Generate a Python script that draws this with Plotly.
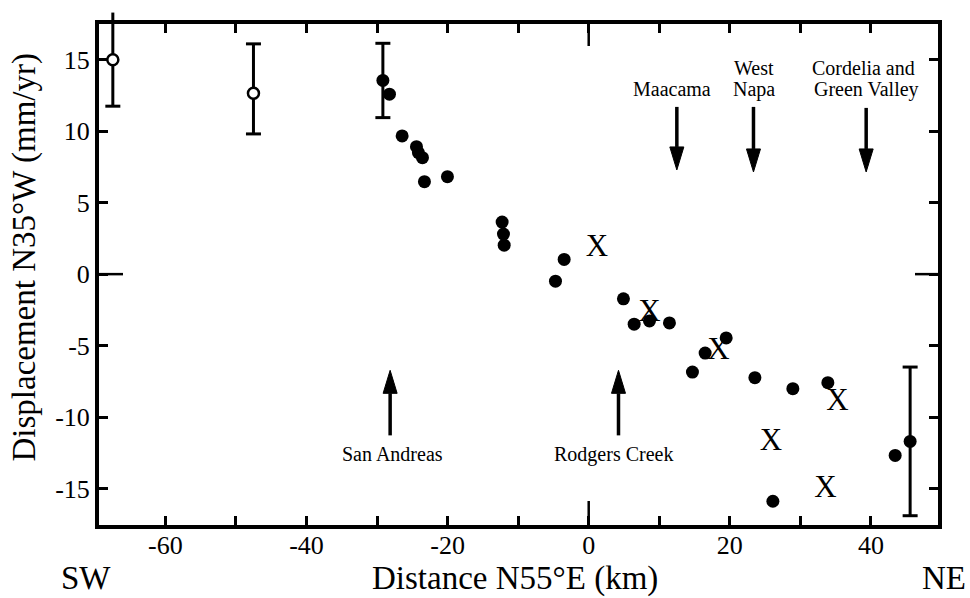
import plotly.graph_objects as go

# ---- data -------------------------------------------------------------
# Fault-parallel (N35°W) velocity against distance across the faults (N55°E)

# sites shown as open circles, with error bars
open_dist = [-67.44, -47.51]
open_disp = [15.0, 12.66]
open_err_plus = [3.3, 3.45]
open_err_minus = [3.25, 2.85]

# sites shown as filled circles
dot_dist = [-28.24, -26.44, -24.41, -24.13, -23.56, -23.28, -20.02,
            -12.27, -12.08, -11.98, -3.48, -4.71, 4.92, 6.44, 8.61,
            11.44, 19.48, 16.50, 14.70, 23.55, 28.93, 33.89, 26.10, 43.43]
dot_disp = [12.59, 9.67, 8.92, 8.50, 8.15, 6.47, 6.82,
            3.64, 2.80, 2.03, 1.03, -0.49, -1.73, -3.50, -3.27,
            -3.41, -4.46, -5.52, -6.85, -7.24, -8.01, -7.59, -15.89, -12.68]

# filled circles that carry error bars
dot_err_dist = [-29.17, 45.55]
dot_err_disp = [13.55, -11.70]
dot_err = [2.6, 5.2]

# sites drawn with an "X"
x_dist = [1.15, 8.61, 18.39, 35.25, 25.81, 33.55]
x_disp = [1.84, -2.75, -5.37, -8.99, -11.75, -15.02]

# fault traces: arrows point down from above or up from below
down_faults = ["Maacama", "West Napa", "Cordelia and Green Valley"]
down_x = [12.49, 23.35, 39.32]
down_tail = [11.70, 11.70, 11.63]
down_tip = [7.29, 7.15, 7.15]

up_faults = ["San Andreas", "Rodgers Creek"]
up_x = [-28.14, 4.22]
up_tip = [-6.73, -6.73]
up_tail = [-11.28, -11.28]

x_tickvals = [-60, -50, -40, -30, -20, -10, 0, 10, 20, 30, 40]
x_ticktext = ["-60", "", "-40", "", "-20", "", "0", "", "20", "", "40"]
y_tickvals = [-15, -10, -5, 0, 5, 10, 15]
y_ticktext = ["-15", "-10", "-5", "0", "5", "10", "15"]

# ---- layout geometry ----------------------------------------------------
W, H = 970, 598
ML, MT = 99, 24
PW, PH = 839, 501
MR = W - ML - PW
MB = H - MT - PH
X_RANGE = [-69.4, 49.5]
Y_RANGE = [-17.55, 17.5]
px_x = PW / (X_RANGE[1] - X_RANGE[0])
px_y = PH / (Y_RANGE[1] - Y_RANGE[0])

FONT = "Liberation Serif"
INK = "black"
BAR_W = 3
CAP_PX = 15


def paper_x(px):
    return (px - ML) / PW


def paper_y(py):
    return (MT + PH - py) / PH


fig = go.Figure()


def error_bars(xs, ys, plus, minus):
    """Vertical error bars built from line markers so they may run past the frame."""
    lo = [y - m for y, m in zip(ys, minus)]
    hi = [y + p for y, p in zip(ys, plus)]
    mid = [(a + b) / 2 for a, b in zip(lo, hi)]
    sizes = [(b - a) * px_y / 1.4 for a, b in zip(lo, hi)]
    fig.add_trace(go.Scatter(
        x=xs, y=mid, mode="markers", hoverinfo="skip",
        marker=dict(symbol="line-ns", size=sizes, color=INK, opacity=1,
                    line=dict(width=BAR_W, color=INK)),
        cliponaxis=False, showlegend=False,
    ))
    fig.add_trace(go.Scatter(
        x=list(xs) + list(xs), y=lo + hi, mode="markers", hoverinfo="skip",
        marker=dict(symbol="line-ew", size=CAP_PX / 1.4, color=INK, opacity=1,
                    line=dict(width=BAR_W, color=INK)),
        cliponaxis=False, showlegend=False,
    ))


error_bars(open_dist, open_disp, open_err_plus, open_err_minus)
error_bars(dot_err_dist, dot_err_disp, dot_err, dot_err)

fig.add_trace(go.Scatter(
    x=open_dist, y=open_disp, mode="markers",
    marker=dict(symbol="circle", size=11, color="white", line=dict(width=2.5, color=INK)),
    cliponaxis=False, showlegend=False,
))

fig.add_trace(go.Scatter(
    x=dot_err_dist, y=dot_err_disp, mode="markers",
    marker=dict(symbol="circle", size=13, color=INK),
    cliponaxis=False, showlegend=False,
))

fig.add_trace(go.Scatter(
    x=dot_dist, y=dot_disp, mode="markers",
    marker=dict(symbol="circle", size=13, color=INK),
    cliponaxis=False, showlegend=False,
))

fig.add_trace(go.Scatter(
    x=x_dist, y=x_disp, mode="text", text=["X"] * len(x_dist),
    textposition="middle center",
    textfont=dict(family=FONT, size=31, color=INK),
    cliponaxis=False, showlegend=False,
))

# ---- fault arrows --------------------------------------------------------
HEAD_LEN = 23 / px_y
HEAD_HALF = 7 / px_x
shapes = []


def arrow(x, tail, tip):
    direction = 1 if tip > tail else -1
    base = tip - direction * HEAD_LEN
    shapes.append(dict(type="line", xref="x", yref="y", x0=x, x1=x, y0=tail, y1=base,
                       line=dict(color=INK, width=3.5)))
    shapes.append(dict(type="path", xref="x", yref="y",
                       path=f"M {x - HEAD_HALF} {base} L {x + HEAD_HALF} {base} L {x} {tip} Z",
                       fillcolor=INK, line=dict(color=INK, width=1)))


for xx, t0, t1 in zip(down_x, down_tail, down_tip):
    arrow(xx, t0, t1)
for xx, t0, t1 in zip(up_x, up_tail, up_tip):
    arrow(xx, t0, t1)

# longer ticks marking zero on every side of the frame
Z = 24
shapes += [
    dict(type="line", xref="x", yref="y domain", x0=0, x1=0, y0=0, y1=Z / PH,
         line=dict(color=INK, width=2.5)),
    dict(type="line", xref="x", yref="y domain", x0=0, x1=0, y0=1, y1=1 - 22 / PH,
         line=dict(color=INK, width=2.5)),
    dict(type="line", xref="x domain", yref="y", x0=0, x1=Z / PW, y0=0, y1=0,
         line=dict(color=INK, width=2.5)),
    dict(type="line", xref="x domain", yref="y", x0=1, x1=1 - 23 / PW, y0=0, y1=0,
         line=dict(color=INK, width=2.5)),
]

# ---- text ------------------------------------------------------------------
annotations = []


def label(text, px, py, size=20):
    annotations.append(dict(text=text, xref="paper", yref="paper",
                            x=paper_x(px), y=paper_y(py), xanchor="center", yanchor="middle",
                            showarrow=False, borderpad=0,
                            font=dict(family=FONT, size=size, color=INK)))


label("Maacama", 671.7, 89)
label("West", 754, 68)
label("Napa", 754, 89)
label("Cordelia and", 863, 68)
label("Green Valley", 866, 89)
label("San Andreas", 392, 454)
label("Rodgers Creek", 613, 454)

label("SW", 86, 578, 33)
label("NE", 944, 578, 33)
label("Distance N55°E (km)", 514.5, 578, 33)
annotations.append(dict(text="Displacement N35°W (mm/yr)", xref="paper", yref="paper",
                        x=paper_x(24), y=paper_y(257.5), xanchor="center", yanchor="middle",
                        textangle=-90, showarrow=False, borderpad=0,
                        font=dict(family=FONT, size=33, color=INK)))

axis_common = dict(showline=True, linewidth=4, linecolor=INK, mirror="allticks",
                   ticks="inside", ticklen=9, tickwidth=2.5, tickcolor=INK,
                   showgrid=False, zeroline=False,
                   tickfont=dict(family=FONT, size=26, color=INK))

fig.update_layout(
    width=W, height=H,
    margin=dict(l=ML, r=MR, t=MT, b=MB, pad=0),
    paper_bgcolor="white", plot_bgcolor="white",
    xaxis=dict(range=X_RANGE, tickmode="array", tickvals=x_tickvals, ticktext=x_ticktext,
               ticklabelstandoff=-6, **axis_common),
    yaxis=dict(range=Y_RANGE, tickmode="array", tickvals=y_tickvals, ticktext=y_ticktext,
               **axis_common),
    shapes=shapes,
    annotations=annotations,
)

fig.write_html("out.html")
